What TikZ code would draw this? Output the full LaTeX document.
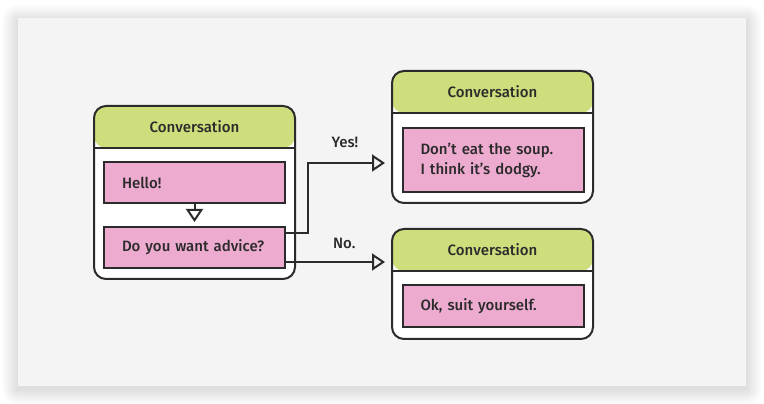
\documentclass[tikz,border=0pt]{standalone}
\usepackage{fontspec}
\setmainfont{Fira Sans}[UprightFont=* Medium]
\usepackage{tikz}
\usepackage{xcolor}
\usetikzlibrary{arrows.meta}
\definecolor{panel}{HTML}{F4F4F4}
\definecolor{header}{HTML}{CFDE7D}
\definecolor{bubble}{HTML}{EDABCF}
\definecolor{ink}{HTML}{2B2B2B}

\begin{document}
\begin{tikzpicture}[x=1pt, y=1pt, line width=2pt, >={Triangle[open, length=13pt, width=17pt]},
    every node/.style={font=\fontsize{15}{20}\selectfont, text=ink},
    frame/.style={draw=ink, fill=white, rounded corners=12pt, inner sep=0pt, outer sep=0pt,
        minimum width=201pt, path picture={
            \fill[header] (path picture bounding box.north west) rectangle ([yshift=-42pt]path picture bounding box.north east);
            \draw[ink] ([yshift=-42pt]path picture bounding box.north west) -- ([yshift=-42pt]path picture bounding box.north east);}},
    msg/.style={draw=ink, fill=bubble, inner xsep=18pt, text width=145pt, align=left, minimum height=41pt},
    flow/.style={draw=ink, ->}]
    \useasboundingbox (0,0) rectangle (764,404);
    \fill[white] (0,0) rectangle (764,404);
    % soft shadow under the panel
    \foreach \s in {1,...,16}
        \fill[black, opacity=0.007, rounded corners=\s pt] (18-\s, 15-\s) rectangle (746+\s, 386+\s-3);
    \fill[panel] (18,18) rectangle (746,386);

    % left conversation
    \node[frame, minimum height=173pt] (talk) at (194.5,211.5) {};
    \node at ([yshift=-21pt]talk.north) {Conversation};
    \node[msg] (hello) at (194.5,221.5) {Hello!};
    \node[msg] (advice) at (194.5,156.5) {Do you want advice?};
    \draw[flow, shorten >=4pt] (hello) -- (advice);

    % right conversations
    \node[frame, minimum height=132pt] (soup) at (492.5,267) {};
    \node at ([yshift=-21pt]soup.north) {Conversation};
    \node[msg, minimum height=64pt] (warn) at (493,244) {Don’t eat the soup.\\I think it’s dodgy.};
    \node[frame, minimum height=110pt] (fine) at (492.5,120) {};
    \node at ([yshift=-21pt]fine.north) {Conversation};
    \node[msg, minimum height=42pt] (ok) at (493,98) {Ok, suit yourself.};

    % answers
    \draw[flow, shorten >=7pt] ([yshift=14.5pt]advice.east) -- ++(22,0) |- ([yshift=-26pt]soup.west)
        node[pos=0.72, above=11pt] {Yes!};
    \draw[flow, shorten >=7pt] ([yshift=-14.5pt]advice.east) -- ([yshift=22pt]fine.west)
        node[pos=0.55, above=9pt] {No.};
\end{tikzpicture}
\end{document}
